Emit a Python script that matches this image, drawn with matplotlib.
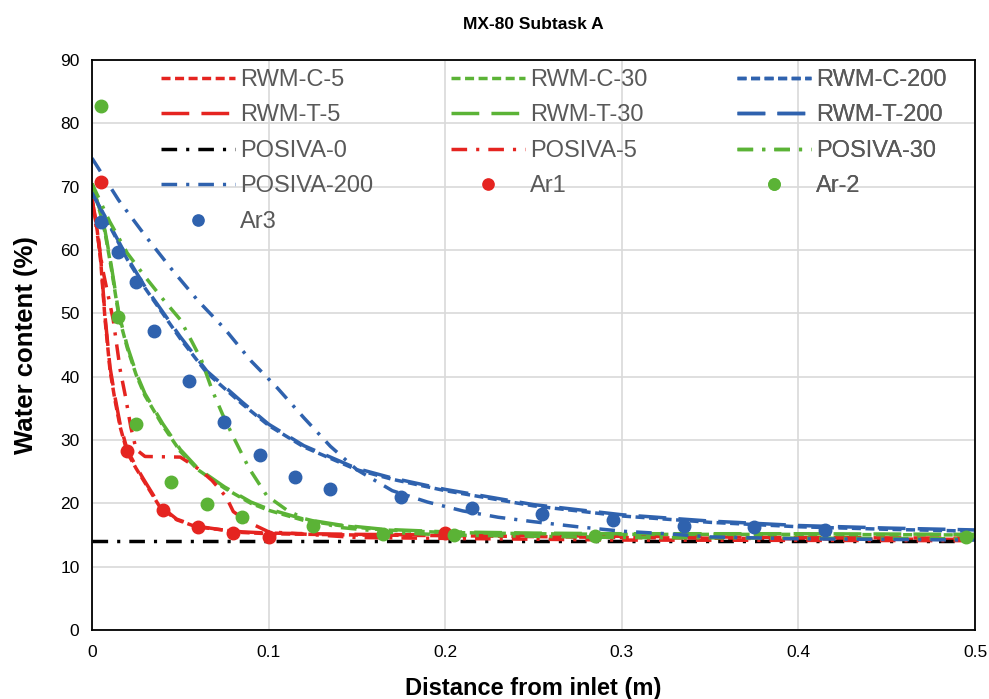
import numpy as np
import matplotlib.pyplot as plt

plt.rcParams['font.family'] = ['Liberation Sans', 'DejaVu Sans']

RED = '#E52420'
GREEN = '#5BB336'
BLUE = '#2F62AE'

# simulated curves (distance m, water content %)
x_rwm5 = [0, 0.003, 0.005, 0.0074, 0.0102, 0.013, 0.016, 0.02, 0.025, 0.029, 0.0385,
          0.048, 0.059, 0.074, 0.085, 0.1, 0.15, 0.2, 0.3, 0.4, 0.5]
y_rwmc5 = [68, 63, 58, 49, 41, 36.3, 32, 28, 25.5, 23.7, 19.4,
           17.4, 16.3, 15.8, 15.4, 15.2, 15.0, 14.9, 14.6, 14.4, 14.3]
y_rwmt5 = [68, 63.5, 58.5, 49.5, 41.5, 36.8, 32.4, 28.4, 25.8, 23.9, 19.6,
           17.5, 16.4, 15.8, 15.5, 15.3, 15.1, 15.0, 14.8, 14.6, 14.5]

x_pos5 = [0, 0.006, 0.012, 0.016, 0.019, 0.022, 0.025, 0.03, 0.05, 0.055, 0.061,
          0.068, 0.076, 0.08, 0.088, 0.1, 0.15, 0.3, 0.5]
y_pos5 = [68, 57, 49, 41, 36.8, 32, 28.5, 27.4, 27.3, 26.4, 25.3,
          23.6, 21, 18.7, 17.1, 15.5, 14.6, 14.2, 14.1]

x_rwm30 = [0, 0.005, 0.0074, 0.011, 0.0153, 0.02, 0.025, 0.03, 0.04, 0.05, 0.06, 0.075,
           0.09, 0.1, 0.12, 0.14, 0.165, 0.2, 0.25, 0.3, 0.4, 0.5]
y_rwmc30 = [70.5, 65.5, 62.7, 57, 49.4, 44.5, 40.3, 37, 32.3, 28.2, 25.3, 22.4,
            20, 18.9, 17.3, 16.5, 15.8, 15.4, 15.2, 15.1, 15.1, 15.0]
y_rwmt30 = [70.5, 65.8, 63, 57.4, 49.8, 44.8, 40.6, 37.3, 32.6, 28.5, 25.5, 22.6,
            20.2, 19.1, 17.5, 16.6, 15.9, 15.5, 15.3, 15.2, 15.2, 15.1]

x_pos30 = [0, 0.01, 0.02, 0.03, 0.04, 0.05, 0.057, 0.062, 0.068, 0.074, 0.08,
           0.089, 0.099, 0.11, 0.12, 0.14, 0.17, 0.2, 0.3, 0.5]
y_pos30 = [70.5, 64.5, 59.5, 55.8, 52.3, 49, 45.3, 42.6, 37.9, 34, 30.5,
           25.5, 21.2, 19, 17.6, 16.2, 15.4, 15.0, 14.6, 14.4]

x_rwm200 = [0, 0.01, 0.02, 0.03, 0.05, 0.065, 0.085, 0.1, 0.12, 0.15, 0.17, 0.2,
            0.25, 0.3, 0.35, 0.4, 0.45, 0.5]
y_rwmc200 = [69, 63.8, 58.5, 54, 46, 40.6, 35.7, 32.3, 28.9, 25.3, 23.8, 22,
             19.6, 18, 17, 16.3, 15.9, 15.6]
y_rwmt200 = [69, 64, 58.8, 54.2, 46.3, 40.9, 36, 32.5, 29.1, 25.5, 24, 22.2,
             19.8, 18.2, 17.2, 16.5, 16.1, 15.8]

x_pos200 = [0, 0.015, 0.03, 0.045, 0.06, 0.075, 0.09, 0.105, 0.12, 0.135, 0.15,
            0.17, 0.19, 0.21, 0.23, 0.25, 0.275, 0.3, 0.325, 0.35, 0.4, 0.45, 0.5]
y_pos200 = [74.5, 67.9, 62.3, 57, 52, 47.6, 42.5, 38.2, 33.5, 29, 25.3,
            22, 20.2, 18.8, 17.8, 17.1, 16.3, 15.6, 15.2, 14.7, 14.4, 14.3, 14.2]

x_pos0 = [0, 0.5]
y_pos0 = [14, 14]

# measured data
x_ar1 = [0.005, 0.02, 0.04, 0.06, 0.08, 0.1, 0.2]
y_ar1 = [70.7, 28.2, 19.0, 16.3, 15.3, 14.7, 15.3]

x_ar2 = [0.005, 0.015, 0.025, 0.045, 0.065, 0.085, 0.125, 0.165, 0.205, 0.285, 0.495]
y_ar2 = [82.7, 49.4, 32.5, 23.4, 19.9, 17.8, 16.5, 15.1, 15.0, 14.8, 14.7]

x_ar3 = [0.005, 0.015, 0.025, 0.035, 0.055, 0.075, 0.095, 0.115, 0.135, 0.175,
         0.215, 0.255, 0.295, 0.335, 0.375, 0.415]
y_ar3 = [64.4, 59.7, 55.0, 47.2, 39.3, 32.8, 27.7, 24.2, 22.2, 21.0,
         19.3, 18.3, 17.3, 16.4, 16.3, 15.8]

short_dash = (0, (2.6, 1.3))
long_dash = (0, (8, 3.5))
dash_dot = (0, (4.5, 2.6, 0.9, 2.6))

W, H = 989, 699
fig = plt.figure(figsize=(W / 100, H / 100), dpi=100)
ax = fig.add_axes([92 / W, 1 - 630 / H, (975 - 92) / W, (630 - 60) / H])

lw = 2.5
h = {}
h['RWM-C-5'], = ax.plot(x_rwm5, y_rwmc5, color=RED, lw=lw, ls=short_dash)
h['RWM-T-5'], = ax.plot(x_rwm5, y_rwmt5, color=RED, lw=lw, ls=long_dash)
h['RWM-C-30'], = ax.plot(x_rwm30, y_rwmc30, color=GREEN, lw=lw, ls=short_dash)
h['RWM-T-30'], = ax.plot(x_rwm30, y_rwmt30, color=GREEN, lw=lw, ls=long_dash)
h['RWM-C-200'], = ax.plot(x_rwm200, y_rwmc200, color=BLUE, lw=lw, ls=short_dash)
h['RWM-T-200'], = ax.plot(x_rwm200, y_rwmt200, color=BLUE, lw=lw, ls=long_dash)
h['POSIVA-0'], = ax.plot(x_pos0, y_pos0, color='black', lw=lw, ls=dash_dot)
h['POSIVA-5'], = ax.plot(x_pos5, y_pos5, color=RED, lw=lw, ls=dash_dot)
h['POSIVA-30'], = ax.plot(x_pos30, y_pos30, color=GREEN, lw=lw, ls=dash_dot)
h['POSIVA-200'], = ax.plot(x_pos200, y_pos200, color=BLUE, lw=lw, ls=dash_dot)
h['Ar1'], = ax.plot(x_ar1, y_ar1, 'o', color=RED, ms=9, ls='none')
h['Ar-2'], = ax.plot(x_ar2, y_ar2, 'o', color=GREEN, ms=9, ls='none')
h['Ar3'], = ax.plot(x_ar3, y_ar3, 'o', color=BLUE, ms=9, ls='none')

ax.set_xlim(0, 0.5)
ax.set_ylim(0, 90)
ax.set_xticks(np.arange(0, 0.51, 0.1))
ax.set_xticklabels(['0', '0.1', '0.2', '0.3', '0.4', '0.5'])
ax.set_yticks(np.arange(0, 91, 10))
ax.grid(True, color='#D9D9D9', lw=1.2)
ax.set_axisbelow(True)
ax.tick_params(length=0, labelsize=12.5)
ax.tick_params(axis='x', pad=11)
ax.tick_params(axis='y', pad=9)
for s in ax.spines.values():
    s.set_color('black')
    s.set_linewidth(1.3)

ax.set_title('MX-80 Subtask A', fontsize=12.5, fontweight='bold', pad=22)
ax.set_xlabel('Distance from inlet (m)', fontsize=17, fontweight='bold', labelpad=12)
ax.set_ylabel('Water content (%)', fontsize=18.5, fontweight='bold', labelpad=16)

# three legend columns, rows read left to right as in the original
columns = [['RWM-C-5', 'RWM-T-5', 'POSIVA-0', 'POSIVA-200', 'Ar3'],
           ['RWM-C-30', 'RWM-T-30', 'POSIVA-5', 'Ar1'],
           ['RWM-C-200', 'RWM-T-200', 'POSIVA-30', 'Ar-2']]
col_x = [161, 451, 737]
for names, cx in zip(columns, col_x):
    leg = ax.legend([h[k] for k in names], names, frameon=False,
                    loc='upper left', bbox_to_anchor=(cx / W, 1 - 69 / H),
                    bbox_transform=fig.transFigure, borderpad=0, borderaxespad=0,
                    fontsize=17, handlelength=3.15, handletextpad=0.2,
                    labelspacing=0.57, markerscale=0.9)
    for t in leg.get_texts():
        t.set_color('#595959')
    ax.add_artist(leg)

fig.savefig('out.png', dpi=100)
